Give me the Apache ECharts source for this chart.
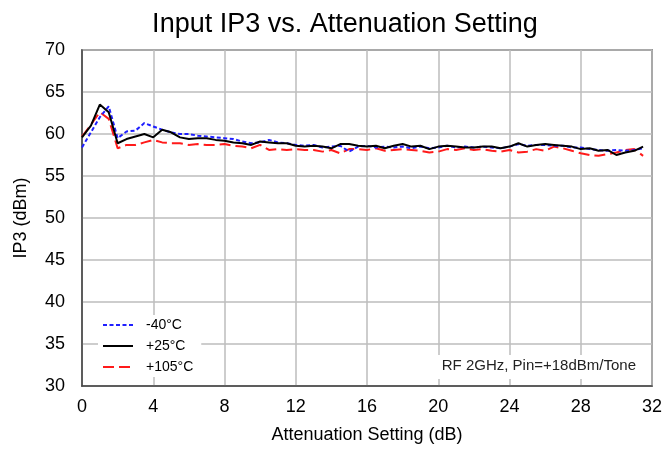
<!DOCTYPE html>
<html>
<head>
    <meta charset="utf-8">
    <title>Input IP3 vs. Attenuation Setting</title>
    <script src="https://cdn.jsdelivr.net/npm/echarts@6/dist/echarts.min.js"></script>
    <style>
        html, body {margin: 0; padding: 0; background: #fff;}
        #chart {width: 668px; height: 449px;}
    </style>
</head>
<body>
<div id="chart"></div>
<script type="text/javascript">
    // attenuation steps 0 .. 31.5 dB, 0.5 dB apart
    var atten = [];
    for (var i = 0; i < 64; i++) { atten.push(i * 0.5); }

    var ip3Minus40 = [58.4, 60.2, 62.0, 63.3, 59.5, 60.3, 60.4, 61.3, 60.9, 60.5, 60.2, 60.0, 60.0, 59.8, 59.7, 59.6,
        59.5, 59.4, 59.1, 58.9, 59.0, 59.3, 59.0, 58.9, 58.7, 58.6, 58.7, 58.4, 58.5, 58.6, 57.9, 58.5,
        58.6, 58.4, 58.5, 58.4, 58.5, 58.3, 58.5, 58.3, 58.4, 58.6, 58.4, 58.5, 58.4, 58.5, 58.4, 58.3,
        58.5, 58.8, 58.6, 58.7, 58.7, 58.6, 58.6, 58.4, 58.4, 58.2, 58.1, 58.0, 58.1, 58.0, 58.1, 58.3];
    var ip3Plus25 = [59.6, 61.0, 63.5, 62.6, 58.9, 59.4, 59.7, 60.0, 59.6, 60.5, 60.2, 59.6, 59.4, 59.5, 59.5, 59.3,
        59.2, 59.0, 58.9, 58.7, 59.1, 59.0, 58.9, 58.9, 58.6, 58.5, 58.6, 58.5, 58.3, 58.8, 58.8, 58.6,
        58.5, 58.6, 58.3, 58.6, 58.8, 58.5, 58.6, 58.2, 58.5, 58.6, 58.5, 58.4, 58.4, 58.5, 58.5, 58.3,
        58.5, 58.9, 58.5, 58.7, 58.8, 58.7, 58.6, 58.5, 58.2, 58.3, 58.0, 58.1, 57.5, 57.8, 58.0, 58.5];
    var ip3Plus105 = [59.7, 61.1, 62.6, 61.8, 58.3, 58.7, 58.7, 59.0, 59.3, 59.0, 58.9, 58.9, 58.7, 58.8, 58.7, 58.7,
        58.8, 58.6, 58.5, 58.3, 58.7, 58.1, 58.2, 58.1, 58.2, 58.1, 58.1, 57.9, 58.1, 57.7, 58.2, 58.2,
        58.1, 58.3, 58.0, 58.1, 58.2, 58.1, 58.0, 57.8, 57.9, 58.2, 58.1, 58.3, 58.1, 58.2, 58.0, 57.9,
        58.1, 57.8, 57.9, 58.2, 58.0, 58.5, 58.3, 58.0, 57.7, 57.5, 57.4, 57.6, 57.8, 58.1, 58.2, 57.4];

    var seriesNames = ['-40°C', '+25°C', '+105°C'];

    function pairs(ys) {
        var out = [];
        for (var k = 0; k < ys.length; k++) { out.push([atten[k], ys[k]]); }
        return out;
    }

    var myChart = echarts.init(document.getElementById('chart'));

    var font = 'Liberation Sans, Arial, sans-serif';

    var option = {
        backgroundColor: '#fff',
        animation: false,
        title: {
            text: 'Input IP3 vs. Attenuation Setting',
            left: 340,
            textAlign: 'center',
            top: 6,
            textStyle: {fontFamily: font, fontSize: 27, fontWeight: 'normal', color: '#000'}
        },
        grid: {
            left: 82, right: 16, top: 50, bottom: 63,
            show: true, borderColor: '#444', borderWidth: 1.5
        },
        legend: {
            data: seriesNames,
            orient: 'vertical',
            left: 98, top: 315,
            itemWidth: 30, itemHeight: 10, itemGap: 7,
            backgroundColor: '#fff',
            padding: [3, 8, 3, 4],
            itemStyle: {opacity: 0},
            textStyle: {fontFamily: font, fontSize: 14, color: '#000', padding: [0, 0, 0, 8]}
        },
        xAxis: {
            type: 'value',
            min: 0, max: 32, interval: 4,
            name: 'Attenuation Setting (dB)',
            nameLocation: 'middle',
            nameGap: 40,
            nameTextStyle: {fontFamily: font, fontSize: 18, color: '#000'},
            axisLine: {show: true, lineStyle: {color: '#444', width: 1.5}},
            axisTick: {show: false},
            axisLabel: {fontFamily: font, fontSize: 18, color: '#000', margin: 12},
            splitLine: {show: true, lineStyle: {color: '#bdbdbd', width: 1.5}}
        },
        yAxis: {
            type: 'value',
            min: 30, max: 70, interval: 5,
            name: 'IP3 (dBm)',
            nameLocation: 'middle',
            nameGap: 52,
            nameTextStyle: {fontFamily: font, fontSize: 18, color: '#000'},
            axisLine: {show: true, lineStyle: {color: '#444', width: 1.5}},
            axisTick: {show: false},
            axisLabel: {fontFamily: font, fontSize: 18, color: '#000', margin: 17},
            splitLine: {show: true, lineStyle: {color: '#bdbdbd', width: 1.5}}
        },
        graphic: [{
            type: 'text',
            right: 28, top: 355,
            z: 100,
            style: {
                text: 'RF 2GHz, Pin=+18dBm/Tone',
                font: '15px Liberation Sans, Arial, sans-serif',
                fill: '#222',
                backgroundColor: '#fff',
                padding: [3, 4, 6, 6]
            }
        }],
        series: [{
            name: seriesNames[0],
            type: 'line',
            data: pairs(ip3Minus40),
            symbol: 'none',
            lineStyle: {color: '#1f1fff', width: 2, type: [4, 2.5]},
            itemStyle: {color: '#1f1fff'},
            z: 3
        }, {
            name: seriesNames[1],
            type: 'line',
            data: pairs(ip3Plus25),
            symbol: 'none',
            lineStyle: {color: '#000', width: 2},
            itemStyle: {color: '#000'},
            z: 4
        }, {
            name: seriesNames[2],
            type: 'line',
            data: pairs(ip3Plus105),
            symbol: 'none',
            lineStyle: {color: '#ff1a1a', width: 2, type: [11, 5]},
            itemStyle: {color: '#ff1a1a'},
            z: 2
        }]
    };

    myChart.setOption(option);
</script>
</body>
</html>
